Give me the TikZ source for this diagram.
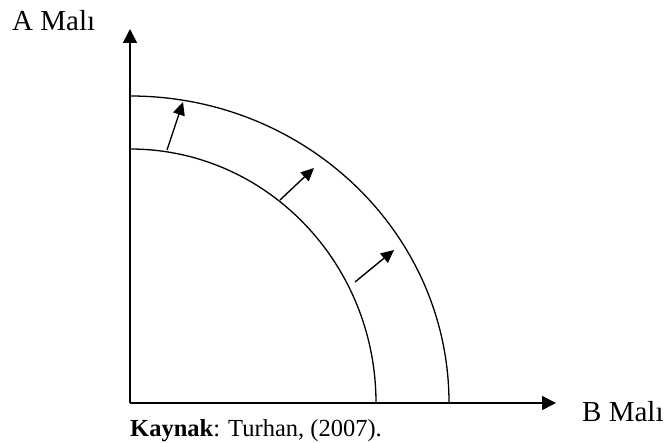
\documentclass[tikz,border=0pt]{standalone}
\usepackage{fontspec}
\setmainfont{Liberation Serif}
\usetikzlibrary{arrows.meta}

\begin{document}
\begin{tikzpicture}[x=1pt,y=1pt,
  axis/.style={line width=1.6pt,-{Triangle[length=14pt,width=14pt]}},
  ppf/.style={line width=1.3pt},
  shiftarr/.style={line width=1.4pt,-{Triangle[length=13pt,width=12pt]}},
  lbl/.style={font=\fontsize{29}{34}\selectfont, inner sep=0pt, anchor=base west}
]
\useasboundingbox (0,0) rectangle (671,442);
% axes
\coordinate (O) at (130,39);
\coordinate (ytop) at (130,413);
\coordinate (xend) at (556,39);
\draw[axis] (O) -- (ytop);
\draw[axis] (O) -- (xend);

% curves
\draw[ppf] ([yshift=254]O) arc[start angle=90, end angle=0, x radius=246, y radius=254];
\draw[ppf] ([yshift=307]O) arc[start angle=90, end angle=0, x radius=319, y radius=307];

% shift arrows
\coordinate (s1) at (167,292);
\coordinate (t1) at (183,340);
\coordinate (s2) at (280,242);
\coordinate (t2) at (314,274);
\coordinate (s3) at (355,160);
\coordinate (t3) at (394,192);
\draw[shiftarr] (s1) -- (t1);
\draw[shiftarr] (s2) -- (t2);
\draw[shiftarr] (s3) -- (t3);

% labels
\node[lbl] (amali) at (12,411) {A Malı};
\node[lbl] (bmali) at (582,21) {B Malı};
\node[lbl, font=\fontsize{24.5}{29}\selectfont] (kaynak) at (130,6) {\textbf{Kaynak}: Turhan, (2007).};
\end{tikzpicture}
\end{document}
